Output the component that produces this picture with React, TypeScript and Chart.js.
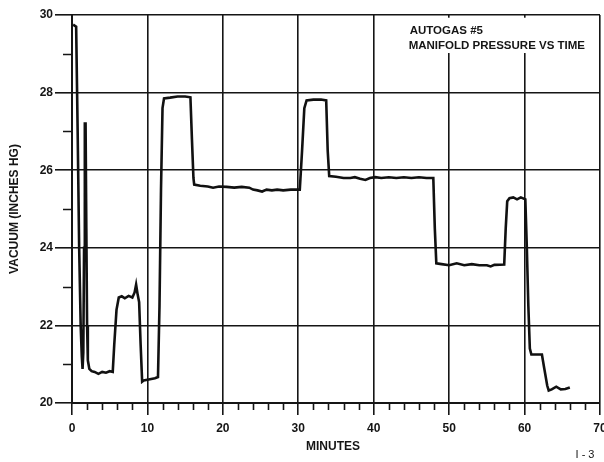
import React, { useEffect, useRef } from "react";
import { Chart, registerables } from "chart.js";

Chart.register(...registerables);

// ---- data ----
const TIME_MIN = [
  0.15, 0.55, 0.75, 0.95, 1.15, 1.3, 1.4, 1.5, 1.6, 1.7, 1.8, 1.9, 2.0, 2.1, 2.3, 2.6,
  3.0, 3.5, 4.0, 4.5, 5.0, 5.4, 5.6, 5.9, 6.2, 6.6, 7.0, 7.5, 8.0, 8.3, 8.5, 8.7, 8.9,
  9.1, 9.3, 9.5, 10.0, 10.5, 11.0, 11.4, 11.6, 11.8, 12.0, 12.2, 13.0, 14.0, 15.0, 15.7,
  15.9, 16.1, 16.2, 17.0, 18.0, 18.7, 19.5, 20.5, 21.5, 22.5, 23.5, 24.0, 24.6, 25.2,
  25.8, 26.5, 27.2, 28.0, 29.0, 30.2, 30.5, 30.8, 31.1, 32.0, 33.0, 33.7, 33.9, 34.1,
  35.0, 36.0, 36.9, 37.5, 38.2, 38.9, 39.5, 40.2, 41.0, 42.0, 43.0, 44.0, 45.0, 46.0,
  47.0, 47.9, 48.1, 48.3, 49.0, 50.0, 51.0, 52.0, 53.0, 54.0, 55.0, 55.5, 56.0, 57.3,
  57.5, 57.7, 58.0, 58.5, 59.0, 59.5, 60.1, 60.3, 60.5, 60.7, 60.9, 61.5, 62.3, 62.6,
  63.0, 63.2, 63.6, 64.2, 64.8, 65.4, 66.0,
];
const VACUUM_INHG = [
  29.75, 29.7, 27.0, 24.0, 22.0, 21.2, 20.88, 21.3, 24.0, 27.2, 27.2, 24.5, 22.0, 21.1, 20.88, 20.82,
  20.8, 20.75, 20.8, 20.78, 20.82, 20.8, 21.5, 22.4, 22.72, 22.75, 22.7, 22.76, 22.72, 22.85, 23.05, 22.8, 22.6,
  21.5, 20.55, 20.58, 20.6, 20.62, 20.64, 20.67, 22.5, 25.5, 27.6, 27.85, 27.87, 27.9, 27.9, 27.88,
  26.8, 25.8, 25.63, 25.6, 25.58, 25.55, 25.58, 25.57, 25.55, 25.57, 25.55, 25.5, 25.48, 25.45,
  25.5, 25.48, 25.5, 25.48, 25.5, 25.5, 26.5, 27.6, 27.8, 27.82, 27.82, 27.8, 26.5, 25.85,
  25.83, 25.8, 25.8, 25.82, 25.78, 25.75, 25.8, 25.82, 25.8, 25.82, 25.8, 25.82, 25.8, 25.82,
  25.8, 25.8, 24.5, 23.6, 23.58, 23.55, 23.6, 23.55, 23.58, 23.55, 23.55, 23.52, 23.56, 23.57,
  24.5, 25.2, 25.28, 25.3, 25.25, 25.3, 25.25, 24.0, 22.5, 21.4, 21.25, 21.25, 21.25, 20.9,
  20.45, 20.32, 20.35, 20.42, 20.35, 20.36, 20.4,
];
const X_TICKS = [0, 10, 20, 30, 40, 50, 60, 70];
const Y_TICKS = [20, 22, 24, 26, 28, 30];
const X_MINOR = [2, 4, 6, 8, 12, 14, 16, 18, 22, 24, 26, 28, 32, 34, 36, 38, 42, 44, 46, 48, 52, 54, 56, 58, 62, 64, 66, 68];
const Y_MINOR = [21, 23, 25, 27, 29];
const X_TITLE = "MINUTES";
const Y_TITLE = "VACUUM (INCHES HG)";
const NOTE_LINES = ["AUTOGAS #5", "MANIFOLD PRESSURE VS TIME"];
const PAGE_REF = "I - 3";

const INK = "#151515";
const FONT_FAMILY = "'Liberation Sans', Arial, sans-serif";

const decor = {
  id: "decor",
  beforeDatasetsDraw(chart: any) {
    const { ctx, scales } = chart;
    const x = scales.x, y = scales.y;
    ctx.save();
    ctx.fillStyle = "#ffffff";
    const l = x.getPixelForValue(44.5);
    const r = x.getPixelForValue(69.7);
    const t = y.getPixelForValue(29.93);
    const b = y.getPixelForValue(29.02);
    ctx.fillRect(l, t, r - l, b - t);
    ctx.fillStyle = INK;
    ctx.font = `bold 11.5px ${FONT_FAMILY}`;
    ctx.textAlign = "left";
    ctx.textBaseline = "alphabetic";
    ctx.fillText(NOTE_LINES[0], l + 2, t + 16);
    ctx.fillText(NOTE_LINES[1], l + 1, t + 31.5);
    ctx.restore();
  },
  afterDraw(chart: any) {
    const { ctx, scales, chartArea } = chart;
    const x = scales.x, y = scales.y;
    ctx.save();
    ctx.strokeStyle = INK;
    ctx.lineWidth = 1.6;
    ctx.beginPath();
    X_MINOR.forEach((v) => {
      const px = Math.round(x.getPixelForValue(v)) + 0.5;
      ctx.moveTo(px, chartArea.bottom);
      ctx.lineTo(px, chartArea.bottom + 7);
    });
    Y_MINOR.forEach((v) => {
      const py = Math.round(y.getPixelForValue(v)) + 0.5;
      ctx.moveTo(chartArea.left - 9, py);
      ctx.lineTo(chartArea.left, py);
    });
    ctx.stroke();

    ctx.fillStyle = INK;
    ctx.font = `bold 12px ${FONT_FAMILY}`;
    ctx.textAlign = "center";
    ctx.textBaseline = "middle";
    ctx.fillText(X_TITLE, (chartArea.left + chartArea.right) / 2 - 3, chartArea.bottom + 44);

    ctx.save();
    ctx.translate(15, (chartArea.top + chartArea.bottom) / 2);
    ctx.rotate(-Math.PI / 2);
    ctx.fillText(Y_TITLE, 0, 0);
    ctx.restore();

    ctx.font = `11px ${FONT_FAMILY}`;
    ctx.fillText(PAGE_REF, chartArea.right - 15, chartArea.bottom + 52);
    ctx.restore();
  },
};

export default function App() {
  const ref = useRef<HTMLCanvasElement | null>(null);

  useEffect(() => {
    if (!ref.current) return;
    const points = TIME_MIN.map((t, i) => ({ x: t, y: VACUUM_INHG[i] }));
    const tickFont = { family: FONT_FAMILY, size: 12, weight: "bold" as const };
    const chart = new Chart(ref.current, {
      type: "line",
      data: {
        datasets: [
          {
            data: points,
            borderColor: "#111111",
            borderWidth: 2.6,
            pointRadius: 0,
            tension: 0,
            fill: false,
          },
        ],
      },
      options: {
        responsive: false,
        animation: false,
        events: [],
        layout: { padding: { top: 15, right: 4, left: 0, bottom: 0 } },
        plugins: { legend: { display: false }, tooltip: { enabled: false }, title: { display: false } },
        scales: {
          x: {
            type: "linear",
            min: 0,
            max: 70,
            afterBuildTicks: (s: any) => {
              s.ticks = X_TICKS.map((v) => ({ value: v }));
            },
            afterFit: (s: any) => {
              s.height = 59;
              s.paddingRight = 0;
              s.paddingLeft = 0;
            },
            grid: { color: INK, lineWidth: 1.6, tickLength: 12, tickColor: INK, tickWidth: 1.6 },
            border: { display: true, color: INK, width: 2 },
            ticks: { font: tickFont, color: INK, padding: 6, maxRotation: 0, autoSkip: false },
          },
          y: {
            type: "linear",
            min: 20,
            max: 30,
            afterBuildTicks: (s: any) => {
              s.ticks = Y_TICKS.map((v) => ({ value: v }));
            },
            afterFit: (s: any) => {
              s.width = 72;
              s.paddingTop = 0;
              s.paddingBottom = 0;
            },
            grid: { color: INK, lineWidth: 1.6, tickLength: 17, tickColor: INK, tickWidth: 1.6 },
            border: { display: true, color: INK, width: 2 },
            ticks: { font: tickFont, color: INK, padding: 2, autoSkip: false },
          },
        },
      },
      plugins: [decor],
    });
    return () => chart.destroy();
  }, []);

  return (
    <div style={{ position: "fixed", left: 0, top: 0, width: 604, height: 462, background: "#fff" }}>
      <canvas ref={ref} width={604} height={462} style={{ display: "block", width: 604, height: 462 }} />
    </div>
  );
}
